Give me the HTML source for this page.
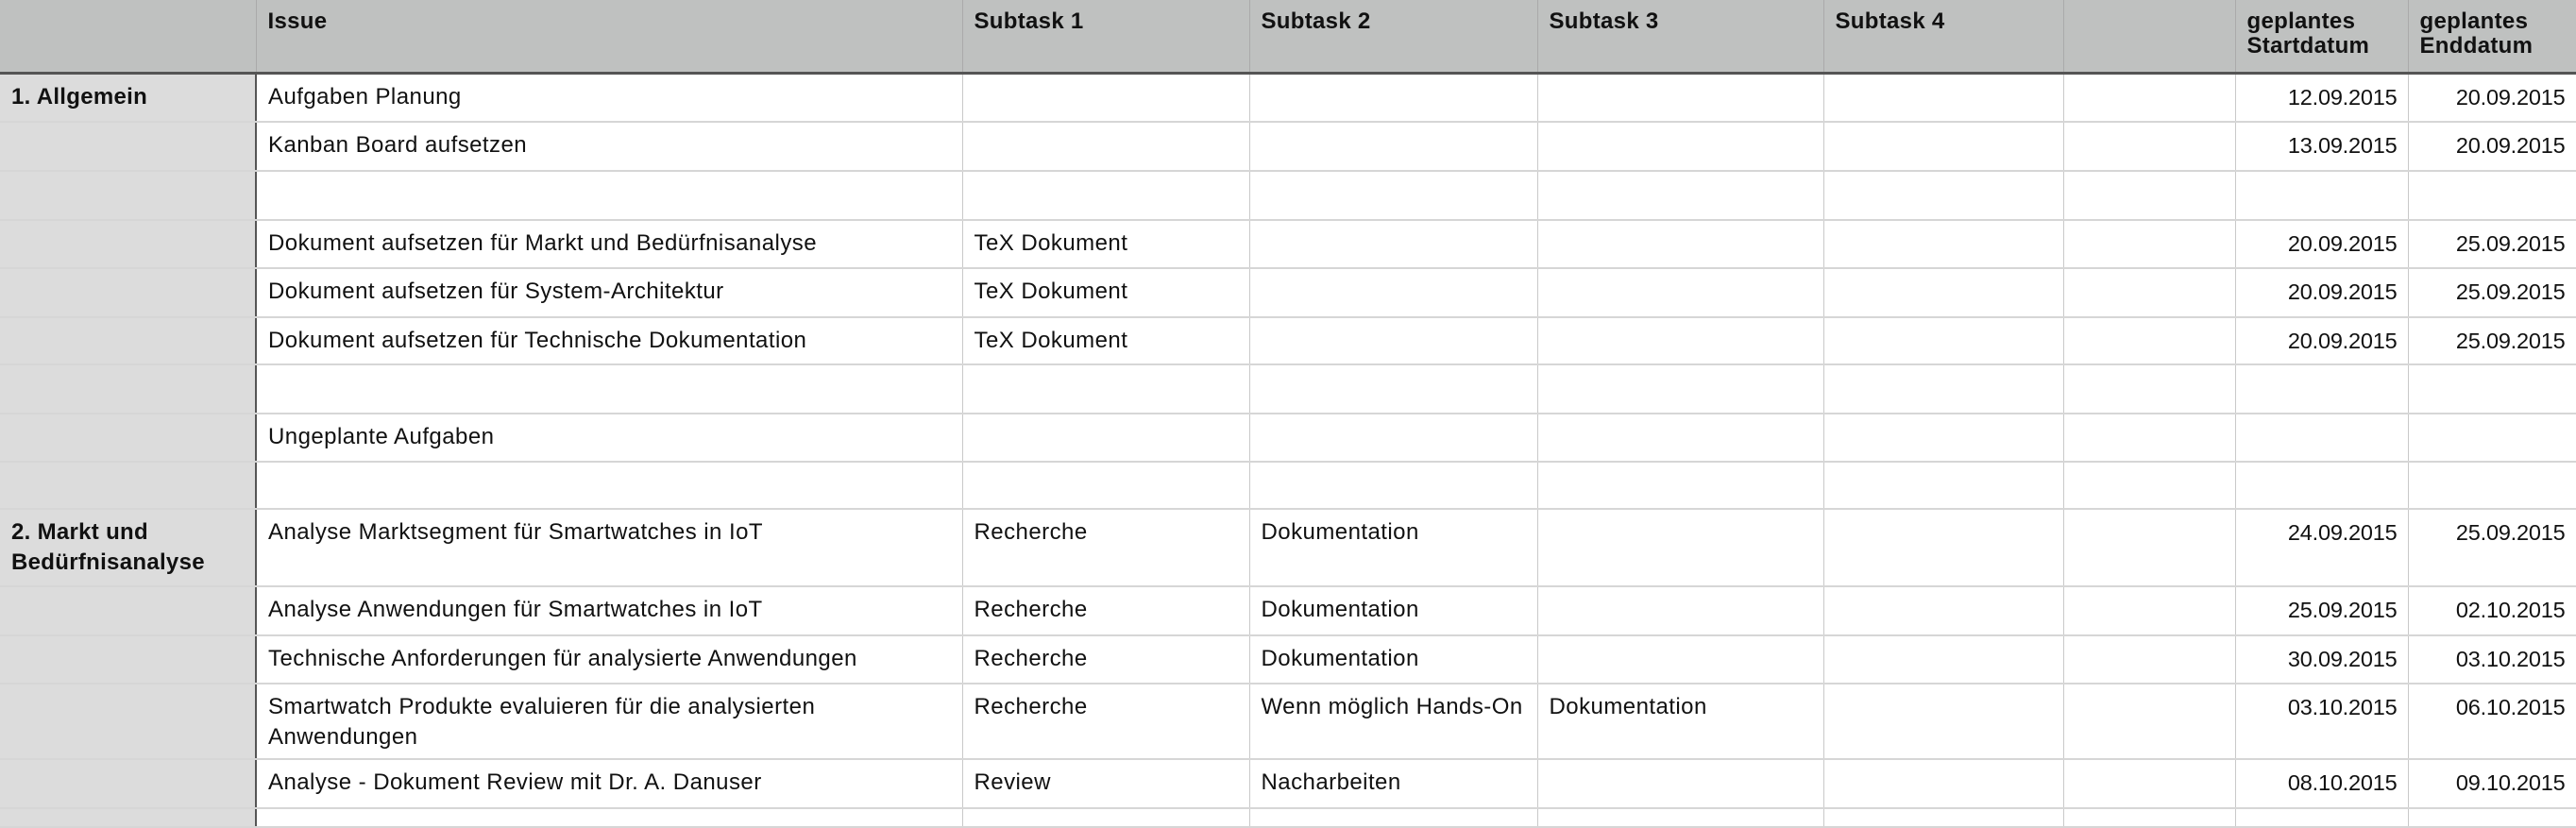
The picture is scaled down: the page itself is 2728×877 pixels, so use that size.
<!DOCTYPE html>
<html><head><meta charset="utf-8"><style>
html,body{margin:0;padding:0;background:#fff;}
body{width:2728px;height:860px;overflow:hidden;font-family:"Liberation Sans",Arial,sans-serif;color:#111;}
table{border-collapse:collapse;table-layout:fixed;width:2728px;}
td{vertical-align:top;padding:8px 12px 0 12px;font-size:24px;letter-spacing:0.45px;line-height:32px;border-right:1px solid #c9c9c9;border-bottom:2px solid #d6d6d6;overflow:hidden;white-space:nowrap;}
tr.h td{background:#bfc1c0;font-weight:bold;font-size:24px;letter-spacing:0.3px;line-height:26px;padding-top:10px;border-bottom:3px solid #555;border-right:1px solid #aaa;}
td.c0{background:#dcdcdc;font-weight:bold;letter-spacing:0.3px;border-right:2px solid #555;}
tr.h td.c0{border-right:1px solid #aaa;}
td.d{text-align:right;padding-right:11px;font-size:23.5px;letter-spacing:-0.2px;}
</style></head><body>
<table>
<colgroup><col style="width:271px"><col style="width:748px"><col style="width:304px"><col style="width:305px"><col style="width:303px"><col style="width:254px"><col style="width:182px"><col style="width:183px"><col style="width:178px"></colgroup>
<tr class="h" style="height:77px"><td class="c0"></td><td>Issue</td><td>Subtask 1</td><td>Subtask 2</td><td>Subtask 3</td><td>Subtask 4</td><td></td><td>geplantes<br>Startdatum</td><td>geplantes<br>Enddatum</td></tr>
<tr style="height:52px"><td class="c0">1. Allgemein</td><td>Aufgaben Planung</td><td></td><td></td><td></td><td></td><td></td><td class="d">12.09.2015</td><td class="d">20.09.2015</td></tr>
<tr style="height:52px"><td class="c0"></td><td>Kanban Board aufsetzen</td><td></td><td></td><td></td><td></td><td></td><td class="d">13.09.2015</td><td class="d">20.09.2015</td></tr>
<tr style="height:52px"><td class="c0"></td><td></td><td></td><td></td><td></td><td></td><td></td><td></td><td></td></tr>
<tr style="height:51px"><td class="c0"></td><td>Dokument aufsetzen für Markt und Bedürfnisanalyse</td><td>TeX Dokument</td><td></td><td></td><td></td><td></td><td class="d">20.09.2015</td><td class="d">25.09.2015</td></tr>
<tr style="height:52px"><td class="c0"></td><td>Dokument aufsetzen für System-Architektur</td><td>TeX Dokument</td><td></td><td></td><td></td><td></td><td class="d">20.09.2015</td><td class="d">25.09.2015</td></tr>
<tr style="height:50px"><td class="c0"></td><td>Dokument aufsetzen für Technische Dokumentation</td><td>TeX Dokument</td><td></td><td></td><td></td><td></td><td class="d">20.09.2015</td><td class="d">25.09.2015</td></tr>
<tr style="height:52px"><td class="c0"></td><td></td><td></td><td></td><td></td><td></td><td></td><td></td><td></td></tr>
<tr style="height:51px"><td class="c0"></td><td>Ungeplante Aufgaben</td><td></td><td></td><td></td><td></td><td></td><td></td><td></td></tr>
<tr style="height:50px"><td class="c0"></td><td></td><td></td><td></td><td></td><td></td><td></td><td></td><td></td></tr>
<tr style="height:82px"><td class="c0">2. Markt und<br>Bedürfnisanalyse</td><td>Analyse Marktsegment für Smartwatches in IoT</td><td>Recherche</td><td>Dokumentation</td><td></td><td></td><td></td><td class="d">24.09.2015</td><td class="d">25.09.2015</td></tr>
<tr style="height:52px"><td class="c0"></td><td>Analyse Anwendungen für Smartwatches in IoT</td><td>Recherche</td><td>Dokumentation</td><td></td><td></td><td></td><td class="d">25.09.2015</td><td class="d">02.10.2015</td></tr>
<tr style="height:51px"><td class="c0"></td><td>Technische Anforderungen für analysierte Anwendungen</td><td>Recherche</td><td>Dokumentation</td><td></td><td></td><td></td><td class="d">30.09.2015</td><td class="d">03.10.2015</td></tr>
<tr style="height:80px"><td class="c0"></td><td>Smartwatch Produkte evaluieren für die analysierten<br>Anwendungen</td><td>Recherche</td><td>Wenn möglich Hands-On</td><td>Dokumentation</td><td></td><td></td><td class="d">03.10.2015</td><td class="d">06.10.2015</td></tr>
<tr style="height:52px"><td class="c0"></td><td>Analyse - Dokument Review mit Dr. A. Danuser</td><td>Review</td><td>Nacharbeiten</td><td></td><td></td><td></td><td class="d">08.10.2015</td><td class="d">09.10.2015</td></tr>
<tr style="height:20px"><td class="c0"></td><td></td><td></td><td></td><td></td><td></td><td></td><td></td><td></td></tr>
</table>
</body></html>
